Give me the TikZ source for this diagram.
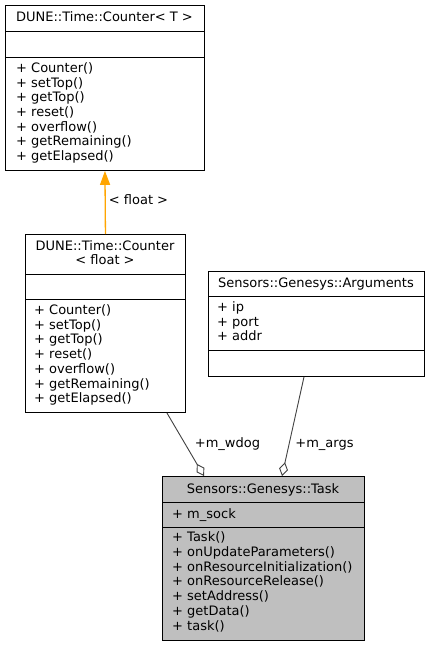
\documentclass[tikz,border=0pt]{standalone}
\usepackage{fontspec}
\setmainfont{DejaVu Sans}
\usetikzlibrary{arrows.meta}

\definecolor{boxgray}{HTML}{BFBFBF}
\definecolor{edgegray}{HTML}{404040}
\definecolor{tmplorange}{HTML}{FFA500}

\tikzset{
  classbox/.style={draw=black, line width=0.9pt, rectangle, inner sep=0pt, anchor=north west},
  title/.style={anchor=base, inner sep=0pt},
  member/.style={anchor=base west, inner sep=0pt},
  edgelabel/.style={anchor=base, inner sep=0pt},
  aggr/.style={draw=edgegray, line width=0.9pt, {Diamond[open, length=14pt, width=9pt, fill=white]}-},
}

\begin{document}
\begin{tikzpicture}[x=1pt, y=-1pt, font=\fontsize{13}{14.7}\selectfont]
    \useasboundingbox (0,0) rectangle (430,647);

    % Template class Counter<T>
    \node[classbox, fill=white, minimum width=199pt, minimum height=165pt] (counterT) at (5,5) {};
    \draw[line width=0.9pt] ([yshift=-26pt]counterT.north west) -- ([yshift=-26pt]counterT.north east);
    \draw[line width=0.9pt] ([yshift=-52pt]counterT.north west) -- ([yshift=-52pt]counterT.north east);
    \node[title] (counterTname) at (104.5,22) {DUNE::Time::Counter< T >};
    \foreach \m [count=\i] in {Counter(), setTop(), getTop(), reset(), overflow(), getRemaining(), getElapsed()}
      \node[member] (counterTm\i) at (16,{72.5+14.7*(\i-1)}) {+ \m};

    % Instance Counter<float>
    \node[classbox, fill=white, minimum width=160pt, minimum height=178pt] (counterF) at (25,234) {};
    \draw[line width=0.9pt] ([yshift=-40pt]counterF.north west) -- ([yshift=-40pt]counterF.north east);
    \draw[line width=0.9pt] ([yshift=-65pt]counterF.north west) -- ([yshift=-65pt]counterF.north east);
    \node[title] (counterFname) at (105,250.5) {DUNE::Time::Counter};
    \node[title] (counterFarg) at (105,264.5) {< float >};
    \foreach \m [count=\i] in {Counter(), setTop(), getTop(), reset(), overflow(), getRemaining(), getElapsed()}
      \node[member] (counterFm\i) at (34,{314.5+14.7*(\i-1)}) {+ \m};

    % Arguments
    \node[classbox, fill=white, minimum width=216pt, minimum height=105pt] (args) at (208,271) {};
    \draw[line width=0.9pt] ([yshift=-25pt]args.north west) -- ([yshift=-25pt]args.north east);
    \draw[line width=0.9pt] ([yshift=-79pt]args.north west) -- ([yshift=-79pt]args.north east);
    \node[title] (argsname) at (316,287.5) {Sensors::Genesys::Arguments};
    \foreach \m [count=\i] in {ip, port, addr}
      \node[member] (argsm\i) at (217,{311.5+14.5*(\i-1)}) {+ \m};

    % Task
    \node[classbox, fill=boxgray, minimum width=202pt, minimum height=164pt] (task) at (162,476) {};
    \draw[line width=0.9pt] ([yshift=-26pt]task.north west) -- ([yshift=-26pt]task.north east);
    \draw[line width=0.9pt] ([yshift=-51pt]task.north west) -- ([yshift=-51pt]task.north east);
    \node[title] (taskname) at (263,493.5) {Sensors::Genesys::Task};
    \node[member] (taskattr) at (172,518.5) {+ m\_sock};
    \foreach \m [count=\i] in {Task(), onUpdateParameters(), onResourceInitialization(), onResourceRelease(), setAddress(), getData(), task()}
      \node[member] (taskm\i) at (172,{541.5+14.8*(\i-1)}) {+ \m};

    % Connectors
    \draw[tmplorange, line width=1.3pt, -{Triangle[length=14pt, width=10pt]}] (counterF.north) -- (counterT.south);
    \node[edgelabel] (floatlabel) at (138.5,204.5) {< float >};

    \draw[aggr] ([xshift=42pt]task.north west) -- ([xshift=-19pt]counterF.south east);
    \node[edgelabel] (wdoglabel) at (227.5,447.5) {+m\_wdog};

    \draw[aggr] ([xshift=120pt]task.north west) -- ([xshift=96pt]args.south west);
    \node[edgelabel] (argslabel) at (324.5,447.5) {+m\_args};
\end{tikzpicture}
\end{document}
